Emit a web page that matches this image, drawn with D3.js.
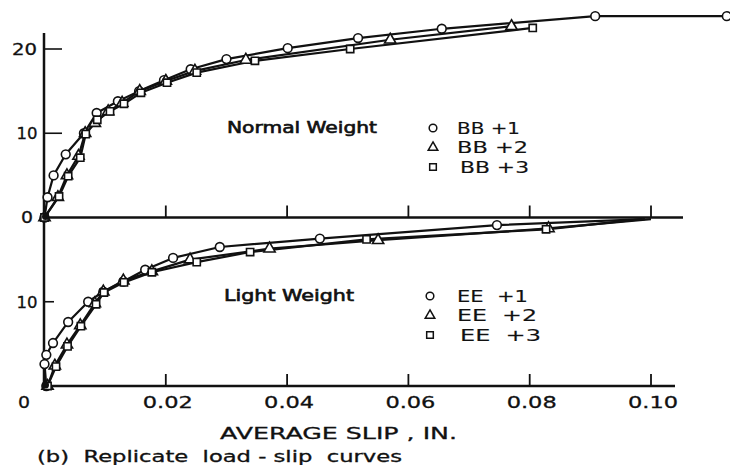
<!DOCTYPE html>
<html><head><meta charset="utf-8">
<script src="https://cdn.jsdelivr.net/npm/d3@7"></script>
<style>
body{margin:0;background:#fff}
text{font-family:"DejaVu Sans",sans-serif;fill:#111;white-space:pre}
</style>
</head><body>
<svg id="c" width="730" height="465"></svg>
<script>
// ---------- data ----------
// Normal weight (top panel), load plotted with an offset of 20 on the shared axis
const bb1Slip = [0, 0.0005, 0.0015, 0.0035, 0.0065, 0.0086, 0.0121, 0.0156, 0.0197, 0.0241, 0.0300, 0.0401, 0.0517, 0.0655, 0.0908, 0.1125];
const bb1Load = [0, 2.4, 5.0, 7.5, 10.0, 12.4, 13.8, 15.0, 16.3, 17.6, 18.8, 20.1, 21.3, 22.4, 23.9, 23.9];
const bb2Slip = [0, 0.0022, 0.0037, 0.0056, 0.0067, 0.0083, 0.0105, 0.0128, 0.0157, 0.0200, 0.0248, 0.0332, 0.0570, 0.0770];
const bb2Load = [0, 2.4, 5.0, 7.3, 10.0, 11.2, 12.6, 13.6, 15.0, 16.2, 17.4, 18.7, 21.1, 22.7];
const bb3Slip = [0, 0.0024, 0.0039, 0.0059, 0.0068, 0.0087, 0.0108, 0.0131, 0.0159, 0.0202, 0.0251, 0.0347, 0.0504, 0.0805];
const bb3Load = [0, 2.5, 4.9, 7.1, 9.9, 11.6, 12.6, 13.5, 14.8, 16.0, 17.2, 18.6, 20.0, 22.5];
// Light weight (bottom panel)
const ee1Slip = [0.0003, 0, 0.0003, 0.0014, 0.0039, 0.0072, 0.0097, 0.0130, 0.0166, 0.0212, 0.0289, 0.0454, 0.0746];
const ee1Load = [0, 2.6, 3.7, 5.1, 7.6, 10.0, 11.2, 12.4, 13.8, 15.2, 16.5, 17.5, 19.1];
const ee2Slip = [0.0005, 0.0017, 0.0037, 0.0059, 0.0083, 0.0097, 0.0130, 0.0177, 0.0240, 0.0371, 0.0550, 0.0831];
const ee2Load = [0, 2.4, 4.9, 7.2, 9.8, 11.2, 12.5, 13.6, 15.0, 16.3, 17.3, 18.7];
const ee3Slip = [0.0005, 0.0019, 0.0038, 0.0060, 0.0085, 0.0098, 0.0131, 0.0177, 0.0251, 0.0339, 0.0531, 0.0827];
const ee3Load = [0, 2.3, 4.7, 7.1, 9.7, 11.1, 12.3, 13.5, 14.7, 15.9, 17.4, 18.6];
// unmarked end points where light-weight curves merge
const eeTailSlip = [0.0990, 0.1000, 0.0985];
const eeTailLoad = [19.8, 19.8, 19.8];

const normalOffset = 20;
const xTickValues = [0.02, 0.04, 0.06, 0.08, 0.10];
const xTickLabels = ["0.02", "0.04", "0.06", "0.08", "0.10"];
const yTickValues = [10, 20, 30, 40];
const yTickLabels = ["10", "0", "10", "20"];
const normalLegend = ["BB +1", "BB +2", "BB +3"];
const lightLegend = ["EE  +1", "EE  +2", "EE  +3"];
const shapes = ["circle", "triangle", "square"];

// ---------- drawing ----------
const svg = d3.select("#c");
const x = d3.scaleLinear().domain([0, 0.10]).range([44.5, 651]);
const y = d3.scaleLinear().domain([0, 40]).range([386, 49]);

const ink = "#111";
const axisX0 = 44;

// axes frame
svg.append("line").attr("x1", axisX0).attr("x2", axisX0).attr("y1", 33).attr("y2", y(0) + 1)
  .attr("stroke", ink).attr("stroke-width", 2.5);
svg.append("line").attr("x1", axisX0).attr("x2", 675).attr("y1", y(0)).attr("y2", y(0))
  .attr("stroke", ink).attr("stroke-width", 2.5);
svg.append("line").attr("x1", axisX0).attr("x2", 683).attr("y1", y(normalOffset)).attr("y2", y(normalOffset))
  .attr("stroke", ink).attr("stroke-width", 2.5);

// x ticks on both base lines (pointing up)
[0, normalOffset].forEach(base => {
  svg.selectAll(null).data(xTickValues).enter().append("line")
    .attr("x1", d => x(d)).attr("x2", d => x(d))
    .attr("y1", y(base)).attr("y2", y(base) - 12)
    .attr("stroke", ink).attr("stroke-width", 1.8);
});
// y ticks (pointing right)
svg.selectAll(null).data(yTickValues.filter(v => v !== normalOffset)).enter().append("line")
  .attr("x1", axisX0).attr("x2", d => d > normalOffset ? axisX0 + 18 : axisX0 + 10)
  .attr("y1", d => y(d)).attr("y2", d => y(d))
  .attr("stroke", ink).attr("stroke-width", 1.6);

// tick labels
const lab = (t, cx, cy, w, size) => svg.append("text").text(t)
  .attr("x", cx).attr("y", cy).attr("dy", "0.36em").attr("text-anchor", "middle")
  .attr("font-size", size).attr("textLength", w).attr("lengthAdjust", "spacingAndGlyphs")
  .attr("stroke", ink).attr("stroke-width", 0.3);
xTickValues.forEach((v, i) => lab(xTickLabels[i], x(v) + 2, 402, 50, 16));
lab("0", 24, 402, 12, 16);
yTickValues.forEach((v, i) => {
  const w = yTickLabels[i].length === 1 ? 12 : (yTickLabels[i] === "20" ? 25 : 21);
  const cx = yTickLabels[i].length === 1 ? 27 : (yTickLabels[i] === "20" ? 24.5 : 27);
  lab(yTickLabels[i], cx, y(v), w, 16);
});

// axis title and caption
const txt = (t, x0, cy, w, size) => svg.append("text").text(t)
  .attr("x", x0).attr("y", cy).attr("dy", "0.36em")
  .attr("font-size", size).attr("textLength", w).attr("lengthAdjust", "spacingAndGlyphs")
  .attr("stroke", ink).attr("stroke-width", 0.3);
txt("AVERAGE SLIP , IN.", 220, 433, 237, 16);
txt("(b)  Replicate  load - slip  curves", 37, 457, 365, 15);

// series
const line = d3.line().x(d => x(d[0])).y(d => y(d[1]));
const symType = {circle: d3.symbolCircle, triangle: d3.symbolTriangle, square: d3.symbolSquare};
const symSize = {circle: 60, triangle: 55, square: 52};

function series(slip, load, offset, tail) {
  const pts = slip.map((s, i) => [s, load[i] + offset]);
  const path = tail ? pts.concat([[tail[0], tail[1] + offset]]) : pts;
  svg.append("path").attr("d", line(path)).attr("fill", "none")
    .attr("stroke", ink).attr("stroke-width", 2.2).attr("stroke-linejoin", "round");
  return pts;
}
function marks(pts, shape) {
  svg.selectAll(null).data(pts).enter().append("path")
    .attr("d", d3.symbol().type(symType[shape]).size(symSize[shape]))
    .attr("transform", d => `translate(${x(d[0])},${y(d[1])})`)
    .attr("fill", "#fff").attr("stroke", ink).attr("stroke-width", 1.6);
}

const normalSets = [[bb1Slip, bb1Load], [bb2Slip, bb2Load], [bb3Slip, bb3Load]];
const lightSets = [[ee1Slip, ee1Load], [ee2Slip, ee2Load], [ee3Slip, ee3Load]];
const allPts = [];
normalSets.forEach((s, i) => allPts.push([series(s[0], s[1], normalOffset, null), shapes[i]]));
lightSets.forEach((s, i) => allPts.push([series(s[0], s[1], 0, [eeTailSlip[i], eeTailLoad[i]]), shapes[i]]));
allPts.forEach(p => marks(p[0], p[1]));

// origin blobs
[0, normalOffset].forEach(b => svg.append("circle").attr("cx", x(0) + 1).attr("cy", y(b) - 1).attr("r", 3.5).attr("fill", ink));

// legends
const legSize = {circle: 46, triangle: 40, square: 44};
function legend(title, tx, tw, cy, items, sx, lx, widths) {
  txt(title, tx, cy, tw, 15).attr("stroke-width", 0.6);
  items.forEach((t, i) => {
    const yy = cy + i * 19.5;
    svg.append("path").attr("d", d3.symbol().type(symType[shapes[i]]).size(legSize[shapes[i]]))
      .attr("transform", `translate(${sx},${yy})`)
      .attr("fill", "#fff").attr("stroke", ink).attr("stroke-width", 1.5);
    txt(t, lx + (i === 2 ? 3 : 0), yy, widths[i], 16).attr("stroke-width", 0.15);
  });
}
legend("Normal Weight", 227, 150, 128, normalLegend, 433, 457, [63, 71, 69]);
legend("Light Weight", 224, 130, 296, lightLegend, 430, 457, [71, 80, 81]);
</script>
</body></html>
